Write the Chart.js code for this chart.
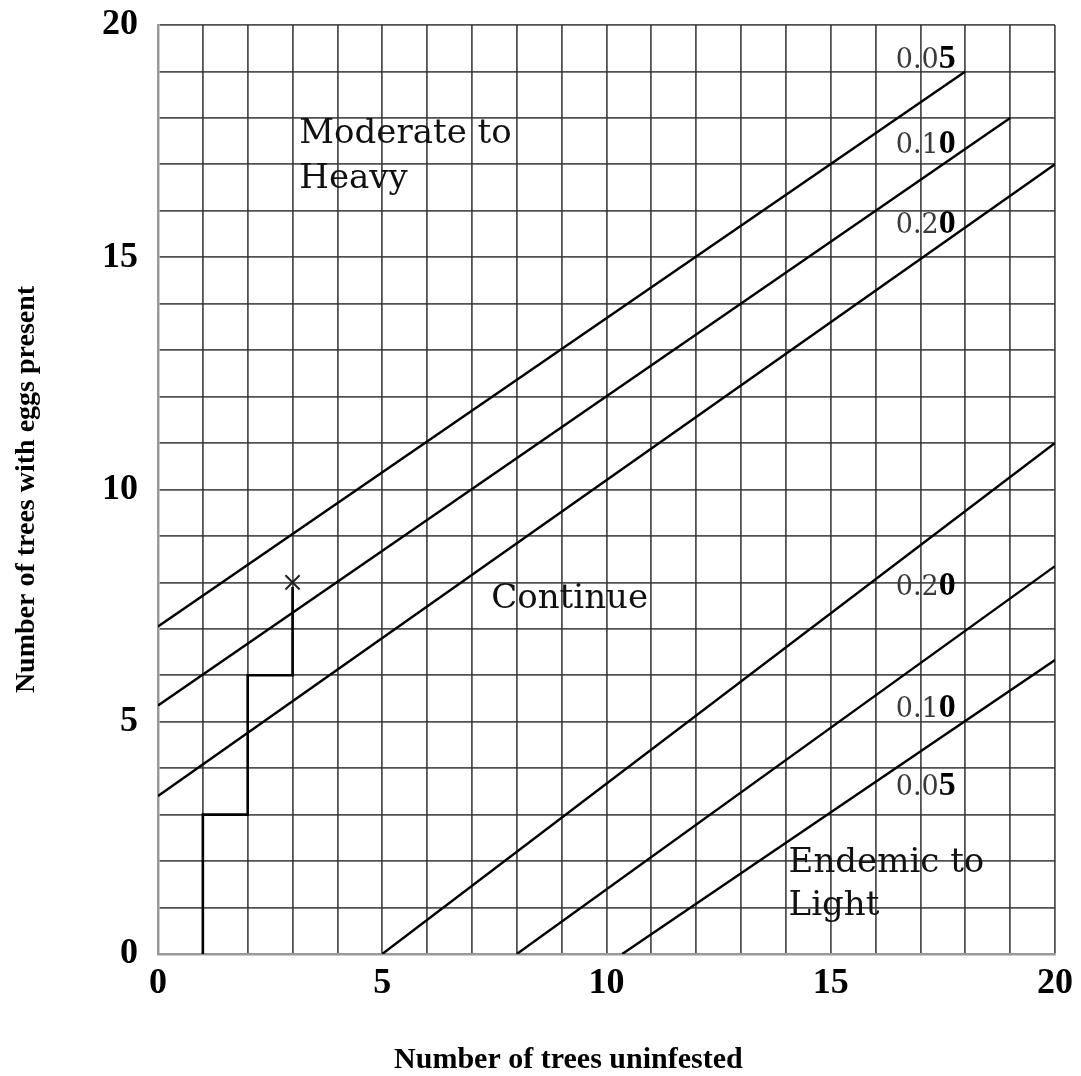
<!DOCTYPE html>
<html>
<head>
<meta charset="utf-8">
<title>Sequential sampling chart</title>
<script src="https://cdn.jsdelivr.net/npm/chart.js@4.4.1/dist/chart.umd.min.js"></script>
<style>
  html, body { margin: 0; padding: 0; background: #fff; }
  #chart { display: block; }
</style>
</head>
<body>
<canvas id="chart" width="1081" height="1076"></canvas>
<script>
// Decision lines: [x = trees uninfested, y = trees with eggs present]
const upper05 = [[0, 7.05], [18, 19]];
const upper10 = [[0, 5.35], [19, 18]];
const upper20 = [[0, 3.4], [20, 17]];
const lower20 = [[5, 0], [20, 11]];
const lower10 = [[8, 0], [20, 8.35]];
const lower05 = [[10.35, 0], [20, 6.33]];

// Sampling path and the last sample (X)
const pathX = [1, 1, 2, 2, 3, 3];
const pathY = [0, 3, 3, 6, 6, 7.9];
const lastSample = [3, 8];

// Axis range and labelled ticks
const axisMin = 0;
const axisMax = 20;
const labelEvery = 5;

// Texts written on the plot (in data units)
const lineLabels = ['0.05', '0.10', '0.20', '0.20', '0.10', '0.05'];
const lineLabelX = [16.45, 16.45, 16.45, 16.45, 16.45, 16.45];
const lineLabelY = [19.07, 17.24, 15.52, 7.73, 5.10, 3.42];

const zoneLabels = ['Moderate to', 'Heavy', 'Continue', 'Endemic to', 'Light'];
const zoneLabelX = [3.15, 3.15, 7.43, 14.06, 14.06];
const zoneLabelY = [17.46, 16.49, 7.45, 1.77, 0.84];

const xTitle = 'Number of trees uninfested';
const yTitle = 'Number of trees with eggs present';

function toPoints(pairs) {
    return pairs.map(([x, y]) => ({ x: x, y: y }));
}

function lineSet(pairs) {
    return {
        data: toPoints(pairs),
        showLine: true,
        borderColor: '#000',
        borderWidth: 2.4,
        pointRadius: 0,
        fill: false
    };
}

// Draws the labels on the plot and the x axis title
const plotText = {
    id: 'plotText',
    afterDatasetsDraw(chart) {
        const { ctx, scales: { x, y } } = chart;
        ctx.save();
        ctx.textAlign = 'left';
        ctx.textBaseline = 'alphabetic';

        ctx.font = '34px "DejaVu Serif"';
        ctx.fillStyle = '#111';
        zoneLabels.forEach((t, i) => {
            ctx.fillText(t, x.getPixelForValue(zoneLabelX[i]), y.getPixelForValue(zoneLabelY[i]));
        });

        lineLabels.forEach((t, i) => {
            const px = x.getPixelForValue(lineLabelX[i]);
            const py = y.getPixelForValue(lineLabelY[i]);
            const head = t.slice(0, -1);
            const tail = t.slice(-1);
            ctx.font = '27px "DejaVu Serif"';
            ctx.fillStyle = '#3a3a3a';
            ctx.fillText(head, px, py);
            const w = ctx.measureText(head).width;
            ctx.font = 'bold 34px "Liberation Serif"';
            ctx.fillStyle = '#000';
            ctx.fillText(tail, px + w, py);
        });

        // x title sits a little left of the plot centre
        ctx.font = 'bold 30px "Liberation Serif"';
        ctx.fillStyle = '#000';
        ctx.textAlign = 'center';
        ctx.fillText(xTitle, x.getPixelForValue(9.15), chart.height - 8);
        ctx.restore();
    }
};

const tickFont = { family: 'Liberation Serif', size: 36, weight: 'bold' };
const gridStyle = { color: 'rgba(50,50,50,0.85)', lineWidth: 1.8, drawTicks: false };
const borderStyle = { display: true, color: '#999', width: 2.5 };

const ctx = document.getElementById('chart').getContext('2d');
new Chart(ctx, {
    type: 'scatter',
    data: {
        datasets: [
            lineSet(upper05),
            lineSet(upper10),
            lineSet(upper20),
            lineSet(lower20),
            lineSet(lower10),
            lineSet(lower05),
            {
                data: pathX.map((v, i) => ({ x: v, y: pathY[i] })),
                showLine: true,
                borderColor: '#000',
                borderWidth: 2.6,
                pointRadius: 0,
                fill: false
            },
            {
                data: [{ x: lastSample[0], y: lastSample[1] }],
                pointStyle: 'crossRot',
                pointRadius: 10,
                borderColor: '#222',
                borderWidth: 2
            }
        ]
    },
    options: {
        responsive: false,
        animation: false,
        layout: { padding: { left: 0, right: 21, top: 25, bottom: 0 } },
        plugins: {
            legend: { display: false },
            tooltip: { enabled: false }
        },
        scales: {
            x: {
                type: 'linear',
                min: axisMin,
                max: axisMax,
                afterFit: scale => { scale.height = 122; },
                ticks: {
                    stepSize: 1,
                    autoSkip: false,
                    maxRotation: 0,
                    padding: 8,
                    color: '#000',
                    font: tickFont,
                    callback: v => (v % labelEvery === 0 ? v : '')
                },
                grid: gridStyle,
                border: borderStyle
            },
            y: {
                type: 'linear',
                min: axisMin,
                max: axisMax,
                // fixed width, and let the layout padding decide the top edge
                afterFit: scale => {
                    scale.width = 158;
                    scale.paddingTop = 0;
                    scale.paddingBottom = 0;
                },
                ticks: {
                    stepSize: 1,
                    autoSkip: false,
                    padding: 20,
                    color: '#000',
                    font: tickFont,
                    callback: v => (v % labelEvery === 0 ? v : '')
                },
                grid: gridStyle,
                border: borderStyle,
                title: {
                    display: true,
                    text: yTitle,
                    color: '#000',
                    font: { family: 'Liberation Serif', size: 28, weight: 'bold' },
                    padding: { top: 10, bottom: 0 }
                }
            }
        }
    },
    plugins: [plotText]
});
</script>
</body>
</html>
